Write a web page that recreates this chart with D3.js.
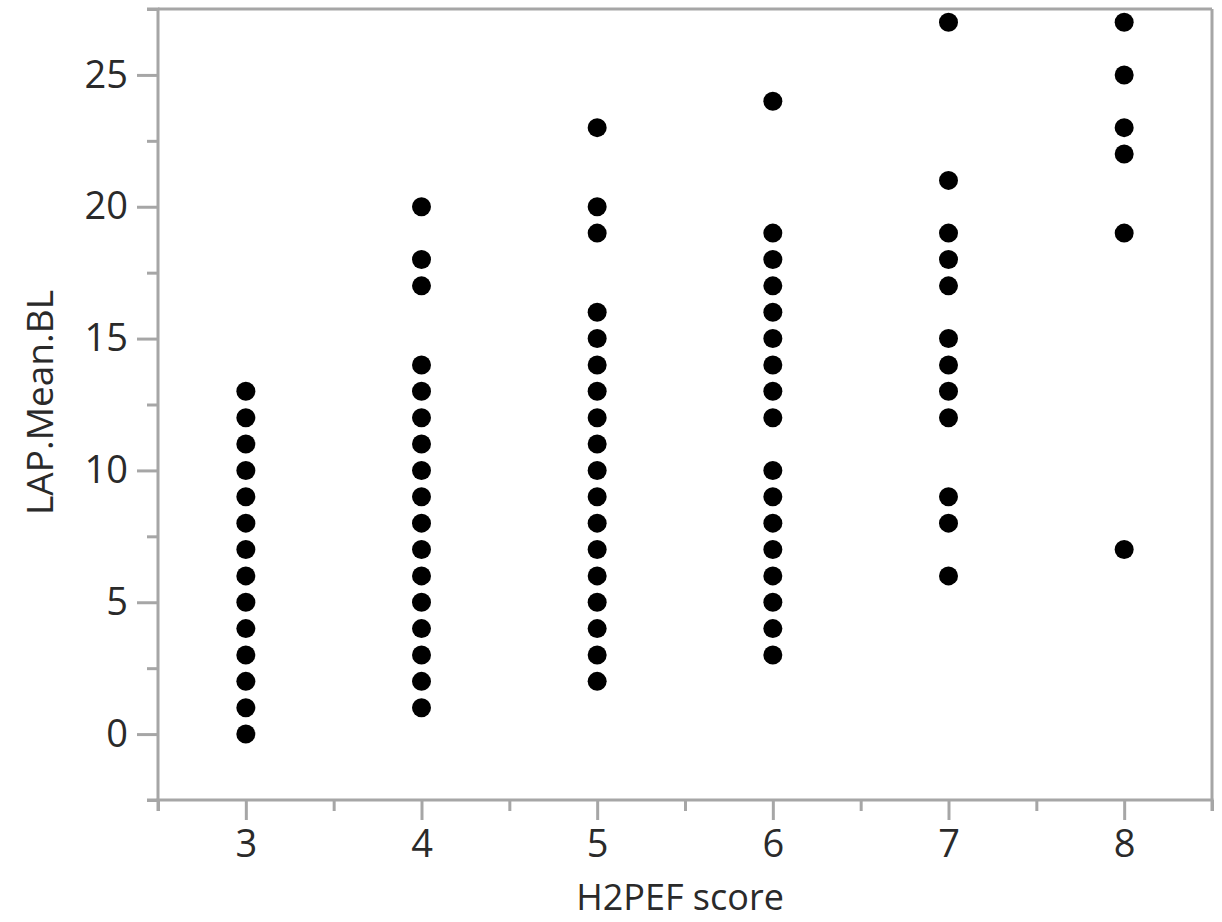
<!DOCTYPE html>
<html>
<head>
<meta charset="utf-8">
<script src="https://cdn.jsdelivr.net/npm/d3@7"></script>
<style>
  html, body { margin: 0; padding: 0; background: #fff; }
  svg { display: block; }
  text { font-family: "Open Sans", "Noto Sans", sans-serif; fill: #2a2a2a; }
</style>
</head>
<body>
<svg id="chart" width="1222" height="922"></svg>
<script>
// ---- data ----
const xCategories = [3, 4, 5, 6, 7, 8];
const seriesScore3 = [0, 1, 2, 3, 4, 5, 6, 7, 8, 9, 10, 11, 12, 13];
const seriesScore4 = [1, 2, 3, 4, 5, 6, 7, 8, 9, 10, 11, 12, 13, 14, 17, 18, 20];
const seriesScore5 = [2, 3, 4, 5, 6, 7, 8, 9, 10, 11, 12, 13, 14, 15, 16, 19, 20, 23];
const seriesScore6 = [3, 4, 5, 6, 7, 8, 9, 10, 12, 13, 14, 15, 16, 17, 18, 19, 24];
const seriesScore7 = [6, 8, 9, 12, 13, 14, 15, 17, 18, 19, 21, 27];
const seriesScore8 = [7, 19, 22, 23, 25, 27];
const xTickLabels = ["3", "4", "5", "6", "7", "8"];
const yTickValues = [0, 5, 10, 15, 20, 25];
const xTitle = "H2PEF score";
const yTitle = "LAP.Mean.BL";

const seriesList = [seriesScore3, seriesScore4, seriesScore5, seriesScore6, seriesScore7, seriesScore8];
const points = [];
seriesList.forEach((vals, i) => vals.forEach(v => points.push({ x: xCategories[i], y: v })));

// ---- layout ----
const svg = d3.select("#chart");
const mLeft = 158, mRight = 1212, mTop = 9, mBottom = 800;
const axisColor = "#a6a6a6";

const x = d3.scaleLinear().domain([2.5, 8.5]).range([mLeft, mRight]);
const y = d3.scaleLinear().domain([-2.5, 27.5]).range([mBottom, mTop]);

// frame top & right
svg.append("line").attr("x1", mLeft).attr("x2", mRight).attr("y1", mTop).attr("y2", mTop)
  .attr("stroke", axisColor).attr("stroke-width", 3);
svg.append("line").attr("x1", mRight).attr("x2", mRight).attr("y1", mTop).attr("y2", mBottom)
  .attr("stroke", axisColor).attr("stroke-width", 3);

// minor ticks
const xMinor = d3.range(2.5, 8.51, 1);
const yMinor = d3.range(-2.5, 27.51, 5);

const gxMinor = svg.append("g").attr("transform", `translate(0,${mBottom})`)
  .call(d3.axisBottom(x).tickValues(xMinor).tickSize(11).tickFormat(""));
const gyMinor = svg.append("g").attr("transform", `translate(${mLeft},0)`)
  .call(d3.axisLeft(y).tickValues(yMinor).tickSize(11).tickFormat(""));

// major axes
const gx = svg.append("g").attr("transform", `translate(0,${mBottom})`)
  .call(d3.axisBottom(x).tickValues(xCategories).tickSize(20).tickPadding(10)
    .tickFormat((d, i) => xTickLabels[i]));
const gy = svg.append("g").attr("transform", `translate(${mLeft},0)`)
  .call(d3.axisLeft(y).tickValues(yTickValues).tickSize(21).tickPadding(9));

[gxMinor, gyMinor, gx, gy].forEach(g => {
  g.selectAll(".domain").attr("stroke", axisColor).attr("stroke-width", 3);
  g.selectAll(".tick line").attr("stroke", axisColor).attr("stroke-width", 3);
  g.selectAll("text").attr("font-size", 38).attr("fill", "#2a2a2a")
    .style("font-family", "'Open Sans', 'Noto Sans', sans-serif");
});
gyMinor.select(".domain").attr("d", `M-11,${y(27.5)}H0V${y(-2.5)}H-11`);
gxMinor.select(".domain").attr("d", `M${x(2.5)},11V0H${x(8.5)}V11`);
gy.select(".domain").remove();
gx.select(".domain").remove();

// points
svg.append("g").selectAll("circle").data(points).join("circle")
  .attr("cx", d => x(d.x)).attr("cy", d => y(d.y)).attr("r", 9.5)
  .attr("fill", "#000");

// titles
svg.append("text").attr("x", (mLeft + mRight) / 2 - 5).attr("y", 910)
  .attr("text-anchor", "middle").attr("font-size", 36).text(xTitle);
svg.append("text").attr("transform", `translate(53,${(mTop + mBottom) / 2 - 2}) rotate(-90)`)
  .attr("text-anchor", "middle").attr("font-size", 37).text(yTitle);
</script>
</body>
</html>
